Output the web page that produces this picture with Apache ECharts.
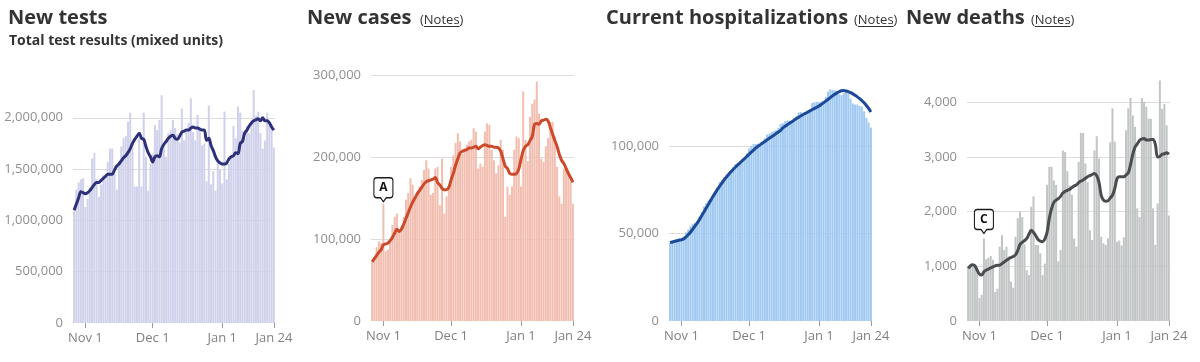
<!DOCTYPE html>
<html>
<head>
<meta charset="utf-8">
<script src="https://cdn.jsdelivr.net/npm/echarts@6/dist/echarts.min.js"></script>
<style>
html,body{margin:0;padding:0;background:#fff;}
#chart{width:1200px;height:362px;}
</style>
</head>
<body>
<div id="chart"></div>
<script>
// ---------- DATA ----------
const dates = [
  "Oct 27","Oct 28","Oct 29","Oct 30","Oct 31",
  "Nov 1","Nov 2","Nov 3","Nov 4","Nov 5","Nov 6","Nov 7","Nov 8","Nov 9","Nov 10",
  "Nov 11","Nov 12","Nov 13","Nov 14","Nov 15","Nov 16","Nov 17","Nov 18","Nov 19","Nov 20",
  "Nov 21","Nov 22","Nov 23","Nov 24","Nov 25","Nov 26","Nov 27","Nov 28","Nov 29","Nov 30",
  "Dec 1","Dec 2","Dec 3","Dec 4","Dec 5","Dec 6","Dec 7","Dec 8","Dec 9","Dec 10",
  "Dec 11","Dec 12","Dec 13","Dec 14","Dec 15","Dec 16","Dec 17","Dec 18","Dec 19","Dec 20",
  "Dec 21","Dec 22","Dec 23","Dec 24","Dec 25","Dec 26","Dec 27","Dec 28","Dec 29","Dec 30","Dec 31",
  "Jan 1","Jan 2","Jan 3","Jan 4","Jan 5","Jan 6","Jan 7","Jan 8","Jan 9","Jan 10",
  "Jan 11","Jan 12","Jan 13","Jan 14","Jan 15","Jan 16","Jan 17","Jan 18","Jan 19","Jan 20",
  "Jan 21","Jan 22","Jan 23","Jan 24"
];
const xTickLabels = ["Nov 1","Dec 1","Jan 1","Jan 24"];

const testsDaily = [
  1100000,1300000,1370000,1400000,1410000,1130000,1210000,1320000,1600000,1660000,
  1400000,1230000,1350000,1440000,1400000,1570000,1700000,1700000,1450000,1300000,
  1580000,1720000,1800000,1820000,1960000,2050000,1750000,1330000,1330000,1800000,
  1330000,2050000,1620000,1290000,1550000,1650000,1930000,1880000,1980000,2220000,
  1720000,1620000,1850000,1880000,1980000,1900000,1840000,1760000,2090000,1780000,
  1880000,1950000,2190000,1860000,1780000,2030000,1880000,1730000,1750000,1380000,
  2120000,1350000,1480000,1290000,1580000,1500000,1360000,2060000,1400000,1550000,
  1620000,1920000,1800000,2110000,2050000,1870000,1800000,1920000,1850000,1950000,
  2270000,2020000,2060000,1850000,1700000,1780000,2050000,1950000,1900000,1710000
];
const testsAvg = [
  1100000,1160000,1220000,1280000,1270000,1260000,1270000,1290000,1320000,1350000,
  1370000,1370000,1390000,1410000,1430000,1450000,1450000,1450000,1490000,1530000,
  1550000,1580000,1610000,1630000,1660000,1700000,1750000,1790000,1820000,1850000,
  1800000,1790000,1720000,1660000,1620000,1570000,1620000,1630000,1620000,1700000,
  1740000,1770000,1800000,1820000,1830000,1800000,1790000,1820000,1860000,1870000,
  1880000,1880000,1900000,1910000,1900000,1900000,1890000,1880000,1880000,1780000,
  1800000,1730000,1680000,1620000,1580000,1560000,1550000,1550000,1560000,1600000,
  1620000,1630000,1660000,1650000,1750000,1770000,1850000,1880000,1920000,1950000,
  1970000,1980000,1990000,1970000,2000000,1970000,1970000,1950000,1910000,1880000
];

const casesDaily = [
  72000,78000,90000,97000,95000,143000,85000,87000,99000,117000,
  127000,131000,111000,115000,127000,148000,156000,174000,166000,148000,
  158000,164000,172000,184000,196000,186000,154000,156000,186000,188000,
  141000,198000,131000,152000,164000,188000,202000,217000,229000,219000,
  204000,211000,215000,219000,221000,235000,231000,186000,192000,188000,
  231000,241000,239000,209000,196000,180000,190000,221000,209000,127000,
  164000,154000,164000,209000,225000,223000,164000,280000,221000,195000,
  249000,265000,270000,292000,253000,198000,194000,213000,223000,243000,
  243000,225000,188000,152000,143000,186000,184000,180000,170000,143000
];
const casesAvg = [
  72000,76000,80000,84000,87000,93000,94000,95000,98000,102000,
  107000,112000,109000,112000,118000,125000,132000,139000,145000,150000,
  155000,159000,163000,167000,170000,171000,172000,173000,175000,169000,
  166000,162000,160000,160000,163000,172000,180000,190000,198000,205000,
  207000,208000,209000,211000,211000,212000,213000,210000,212000,214000,
  215000,214000,213000,213000,212000,212000,211000,207000,198000,189000,
  186000,180000,179000,179000,180000,185000,197000,208000,213000,215000,
  220000,225000,240000,241000,240000,244000,245000,246000,244000,236000,
  228000,220000,213000,203000,196000,192000,186000,180000,175000,169000
];

const hospDaily = [
  44900,45500,46200,46800,47200,47000,48500,50700,52300,54100,
  55600,56200,56900,59700,62200,65500,67400,69000,69600,70100,
  73600,76800,79400,80700,82400,83300,83900,85800,88100,89800,
  90500,91600,91500,93200,96000,98700,100300,101300,101200,101500,
  101400,102100,104600,106700,107200,108100,108500,109300,110500,112800,
  113100,114300,114700,114500,113900,115500,117000,119300,119500,117300,
  117600,119000,121200,124700,125200,125400,125200,125500,125700,128200,
  131200,132500,132100,131900,131300,129700,129200,130400,131300,130400,
  127200,124400,123800,123800,123000,122700,119900,116200,113600,110600
];
const hospAvg = [
  44800,45200,45600,45900,46200,46500,47000,48000,49300,50800,
  52500,54200,56000,58000,60200,62400,64600,66800,69000,71200,
  73300,75300,77200,79000,80800,82400,84000,85400,86800,88100,
  89300,90500,91700,92900,94100,95400,96600,97800,99000,100000,
  100900,101800,102700,103600,104500,105400,106300,107200,108100,109100,
  110500,111400,112300,113200,114000,114900,115800,116600,117400,118100,
  118800,119500,120200,120900,121600,122300,123000,123900,124800,125800,
  126800,127800,128800,129700,130500,131200,131700,131800,131600,131200,
  130600,129900,129100,128200,127200,126100,124800,123300,121600,119600
];

const deathsDaily = [
  960,1040,1010,990,900,420,480,1510,1130,1160,
  1190,1120,530,590,1360,1570,1300,1360,1180,720,
  610,1540,1880,2000,1900,1400,930,840,2090,2280,
  1390,1390,1240,840,1050,2490,2820,2820,2570,2490,
  1090,1300,3120,3090,2740,2480,2310,1510,1360,2910,
  3440,3440,2880,2540,1660,1480,3120,3380,2970,1540,
  1420,1390,1510,3270,3890,3280,1450,1470,1380,1530,
  3490,3890,4080,3760,3550,2060,1900,4080,4010,3920,
  3700,3700,2060,1390,2150,4400,3880,3970,3580,1930
];
const deathsAvg = [
  960,1010,1030,1010,930,860,840,900,930,950,
  970,990,1010,1020,1020,1050,1080,1110,1140,1160,
  1180,1210,1290,1400,1440,1470,1510,1590,1660,1620,
  1560,1490,1460,1450,1500,1620,1880,2060,2170,2210,
  2240,2280,2340,2370,2390,2410,2440,2470,2490,2530,
  2560,2580,2610,2640,2660,2680,2700,2660,2540,2300,
  2210,2190,2200,2250,2300,2420,2600,2640,2640,2640,
  2670,2710,2860,3050,3180,3240,3300,3330,3340,3310,
  3310,3320,3320,3230,3000,3010,3050,3060,3080,3050
];

const panelTitles = ["New tests","New cases","Current hospitalizations","New deaths"];
const testsSubtitle = "Total test results (mixed units)";
const notesText = "(Notes)";
const casesNote = {index: 5, letter: "A"};
const deathsNote = {index: 7, letter: "C"};

// ---------- LAYOUT / STYLE ----------
const FONT = '"Open Sans", "Noto Sans", sans-serif';
const panels = [
  {bars: testsDaily, avg: testsAvg, left: 73, top: 87, width: 202, height: 236, max: 2300000, interval: 500000, maxLine: false,
   barColor: '#d0d1eb', lineColor: '#2e3179'},
  {bars: casesDaily, avg: casesAvg, left: 371, top: 75, width: 203, height: 246, max: 300000, interval: 100000, maxLine: true,
   barColor: '#f2beb0', lineColor: '#cc4a2a', note: casesNote, noteOffset: -14},
  {bars: hospDaily, avg: hospAvg, left: 669, top: 85, width: 203, height: 236, max: 135000, interval: 50000, maxLine: false,
   barColor: '#a0c9f1', lineColor: '#1d4a98'},
  {bars: deathsDaily, avg: deathsAvg, left: 967, top: 75, width: 203, height: 246, max: 4500, interval: 1000, maxLine: false,
   barColor: '#c2c5c5', lineColor: '#4a4d4f', note: deathsNote, noteOffset: -17}
];
const titleX = [8, 307, 606, 906];
const notesX = [null, 420, 854, 1031];

const grid = [], xAxis = [], yAxis = [], series = [];
panels.forEach((p, k) => {
  grid.push({left: p.left, top: p.top, width: p.width, height: p.height, containLabel: false});
  xAxis.push({
    type: 'category', gridIndex: k, data: dates, boundaryGap: true,
    axisLine: {show: false},
    axisTick: {show: true, alignWithLabel: true, length: 5, lineStyle: {color: '#9a9a9a', width: 1},
      interval: (i, v) => xTickLabels.includes(v)},
    axisLabel: {interval: (i, v) => xTickLabels.includes(v), color: '#808080', fontFamily: FONT, fontSize: 13, margin: 9}
  });
  yAxis.push({
    type: 'value', gridIndex: k, min: 0, max: p.max, interval: p.interval,
    axisLine: {show: false}, axisTick: {show: false},
    splitLine: {show: true, showMinLine: false, showMaxLine: p.maxLine, lineStyle: {color: '#dcdcdc', width: 1}},
    axisLabel: {showMaxLabel: p.maxLine, color: '#8f8f8f', fontFamily: FONT, fontSize: 13, margin: 10,
      formatter: v => v.toLocaleString('en-US')}
  });
  const barSeries = {
    type: 'bar', xAxisIndex: k, yAxisIndex: k, data: p.bars, barCategoryGap: '10%',
    itemStyle: {color: p.barColor}, silent: true, z: 2
  };
  if (p.note) {
    barSeries.markPoint = {
      symbol: 'path://M3,0H17Q20,0 20,3V17Q20,20 17,20H13L10,24L7,20H3Q0,20 0,17V3Q0,0 3,0Z',
      symbolSize: [19, 24],
      symbolOffset: [0, p.noteOffset],
      itemStyle: {color: '#ffffff', borderColor: '#1a1a1a', borderWidth: 1.2},
      label: {show: true, formatter: p.note.letter, color: '#111', fontFamily: FONT, fontWeight: 'bold', fontSize: 12,
        position: 'inside', offset: [0, -2]},
      z: 10,
      data: [{coord: [p.note.index, p.bars[p.note.index]]}]
    };
  }
  series.push(barSeries);
  series.push({
    type: 'line', xAxisIndex: k, yAxisIndex: k, data: p.avg, smooth: 0.35, showSymbol: false, symbol: 'none',
    lineStyle: {color: p.lineColor, width: 3}, silent: true, z: 5
  });
});

const titles = [];
panelTitles.forEach((t, k) => {
  titles.push({text: t, left: titleX[k], top: 8, padding: 0,
    textStyle: {fontFamily: FONT, fontSize: 20, fontWeight: 'bold', color: '#333333'}});
  if (notesX[k] !== null) {
    titles.push({text: notesText, left: notesX[k], top: 14, padding: 0,
      textStyle: {fontFamily: FONT, fontSize: 13, fontWeight: 'normal', color: '#333333'}});
  }
});
titles.push({text: testsSubtitle, left: 9, top: 34, padding: 0,
  textStyle: {fontFamily: FONT, fontSize: 14, fontWeight: 'bold', color: '#333333'}});

// underline under "Notes"
const mctx = document.createElement('canvas').getContext('2d');
mctx.font = '13px ' + FONT;
const wOpen = mctx.measureText('(').width;
const wWord = mctx.measureText('Notes').width;
const graphic = [];
notesX.forEach(x => {
  if (x === null) return;
  graphic.push({type: 'line', silent: true,
    shape: {x1: x + wOpen, y1: 26.5, x2: x + wOpen + wWord, y2: 26.5},
    style: {stroke: '#333333', lineWidth: 1}});
});

const chart = echarts.init(document.getElementById('chart'), null, {renderer: 'canvas'});
chart.setOption({
  animation: false,
  backgroundColor: '#ffffff',
  title: titles,
  grid, xAxis, yAxis, series, graphic
});
</script>
</body>
</html>
